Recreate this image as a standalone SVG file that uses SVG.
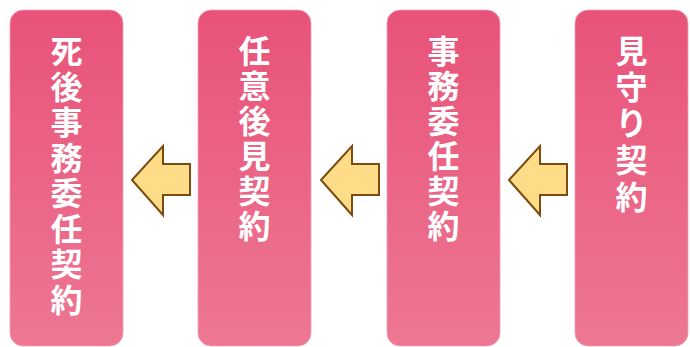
<svg xmlns="http://www.w3.org/2000/svg" width="690" height="347" viewBox="0 0 690 347">
<defs>
<linearGradient id="pink" x1="0" y1="0" x2="0" y2="1">
<stop offset="0" stop-color="#e85279"/>
<stop offset="1" stop-color="#ed7792"/>
</linearGradient>
<path id="arr" d="M0,0 L31,-34 L31,-16 L58,-16 L58,15 L31,15 L31,35 Z"/>
</defs>
<style>
.box{fill:url(#pink);stroke:#f2a0b4;stroke-width:0.8}
.lbl{font-family:"Noto Sans CJK JP","Noto Sans CJK SC",sans-serif;font-weight:700;font-size:32px;fill:#ffffff;text-anchor:middle}
.arrow{fill:#fedc88;stroke:#7d4b0f;stroke-width:2;stroke-linejoin:miter}
</style>
<g id="node-shigo">
<rect class="box" x="10" y="10" width="113" height="336" rx="13"/>
<text class="lbl"><tspan x="66.5" y="63">死</tspan><tspan x="66.5" y="98.5">後</tspan><tspan x="66.5" y="134">事</tspan><tspan x="66.5" y="169.5">務</tspan><tspan x="66.5" y="205">委</tspan><tspan x="66.5" y="240.5">任</tspan><tspan x="66.5" y="276">契</tspan><tspan x="66.5" y="311.5">約</tspan></text>
</g>
<g id="node-nini">
<rect class="box" x="198" y="10" width="113" height="336" rx="13"/>
<text class="lbl"><tspan x="254.5" y="63">任</tspan><tspan x="254.5" y="98">意</tspan><tspan x="254.5" y="133">後</tspan><tspan x="254.5" y="168">見</tspan><tspan x="254.5" y="203">契</tspan><tspan x="254.5" y="238">約</tspan></text>
</g>
<g id="node-jimu">
<rect class="box" x="387" y="10" width="113" height="336" rx="13"/>
<text class="lbl"><tspan x="443.5" y="63">事</tspan><tspan x="443.5" y="98">務</tspan><tspan x="443.5" y="133">委</tspan><tspan x="443.5" y="168">任</tspan><tspan x="443.5" y="203">契</tspan><tspan x="443.5" y="238">約</tspan></text>
</g>
<g id="node-mimamori">
<rect class="box" x="575" y="10" width="113" height="336" rx="13"/>
<text class="lbl"><tspan x="631.5" y="63">見</tspan><tspan x="631.5" y="99">守</tspan><tspan x="631.5" y="135">り</tspan><tspan x="631.5" y="172">契</tspan><tspan x="631.5" y="209">約</tspan></text>
</g>
<g id="connectors">
<use href="#arr" class="arrow" x="132" y="180"/>
<use href="#arr" class="arrow" x="321" y="180"/>
<use href="#arr" class="arrow" x="509" y="180"/>
</g>
</svg>
